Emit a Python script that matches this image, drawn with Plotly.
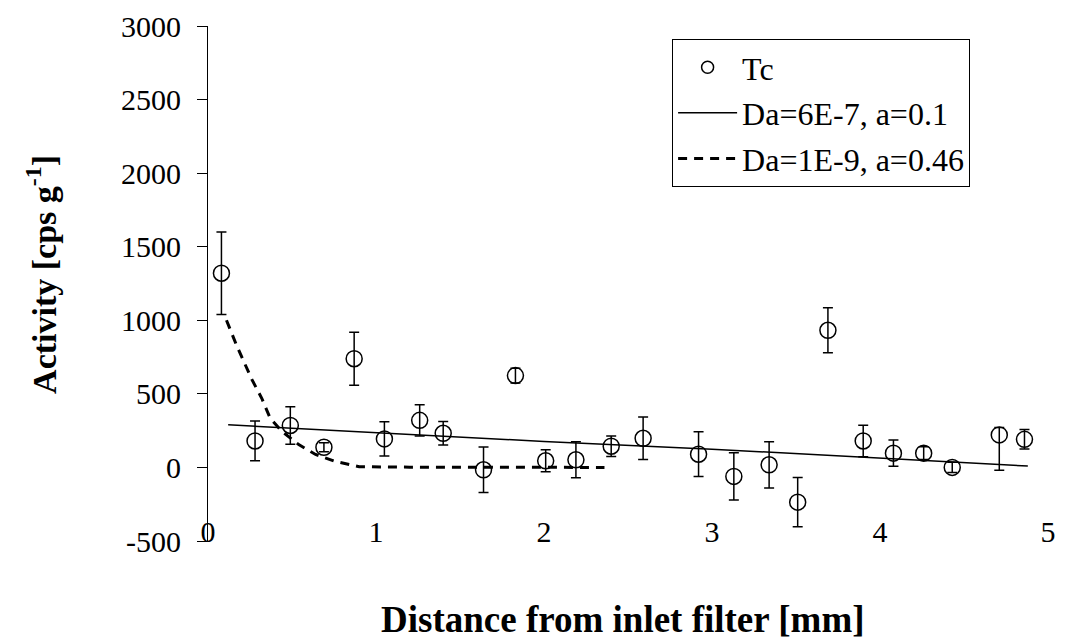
import plotly.graph_objects as go

# Measured data (Tc)
dist = [0.08, 0.28, 0.49, 0.69, 0.87, 1.05, 1.26, 1.40, 1.64, 1.83, 2.01, 2.19, 2.40,
        2.59, 2.92, 3.13, 3.34, 3.51, 3.69, 3.90, 4.08, 4.26, 4.43, 4.71, 4.86]
activity = [1320, 180, 285, 137, 739, 194, 320, 232, -16, 624, 45, 52, 144,
            198, 90, -61, 18, -236, 932, 180, 97, 97, 0, 221, 191]
err_plus = [280, 135, 128, 30, 180, 116, 106, 80, 155, 50, 75, 122, 70,
            144, 152, 160, 157, 167, 153, 107, 89, 43, 35, 50, 66]
err_minus = [280, 135, 128, 30, 180, 116, 106, 80, 155, 50, 75, 122, 70,
             144, 152, 160, 157, 167, 153, 107, 89, 43, 35, 240, 66]

# Model 1: Da=6E-7, a=0.1
m1_x = [0.12, 1.0, 2.0, 3.0, 4.0, 4.88]
m1_y = [290, 239, 176, 124, 63, 9]

# Model 2: Da=1E-9, a=0.46
m2_x = [0.11, 0.17, 0.26, 0.32, 0.37, 0.44, 0.54, 0.64, 0.76, 0.90, 1.2, 1.6, 2.0, 2.36]
m2_y = [1000, 830, 600, 470, 335, 245, 155, 88, 40, 5, 2, 0, 0, 0]

x_ticks = [0, 1, 2, 3, 4, 5]
y_ticks = [-500, 0, 500, 1000, 1500, 2000, 2500, 3000]
y_tick_labels = ["-500", "0", "500", "1000", "1500", "2000", "2500", "3000"]

FONT = "Liberation Serif"
TICK = 30

fig = go.Figure()
fig.add_trace(go.Scatter(
    x=dist, y=activity, mode="markers", name="Tc", showlegend=False,
    marker=dict(symbol="circle-open", size=16, color="black", line=dict(width=1.5, color="black")),
    error_y=dict(type="data", array=err_plus, arrayminus=err_minus, color="black",
                 thickness=1.5, width=5),
))
# legend entry for Tc (smaller symbol, as in the reference legend)
fig.add_trace(go.Scatter(
    x=[None], y=[None], mode="markers", name="Tc", legendgroup="a",
    marker=dict(symbol="circle-open", size=12, color="black", line=dict(width=1.5, color="black")),
))
fig.add_trace(go.Scatter(
    x=m1_x, y=m1_y, mode="lines", name="Da=6E-7, a=0.1", legendgroup="b",
    line=dict(color="black", width=1.5),
))
fig.add_trace(go.Scatter(
    x=m2_x, y=m2_y, mode="lines", name="Da=1E-9, a=0.46", legendgroup="c",
    line=dict(color="black", width=3, dash="9px,7px"),
))

zero_pos = (0 - y_ticks[0]) / (y_ticks[-1] - y_ticks[0])

fig.update_layout(
    width=1065, height=639,
    paper_bgcolor="white", plot_bgcolor="white",
    margin=dict(l=208, r=9, t=22, b=98),
    font=dict(family=FONT, size=TICK, color="black"),
    showlegend=True,
    legend=dict(x=0.5525, y=0.975, xanchor="left", yanchor="top",
                bordercolor="black", borderwidth=1, bgcolor="white",
                font=dict(family=FONT, size=32, color="black"),
                traceorder="grouped", tracegroupgap=1, itemwidth=59),
    xaxis=dict(range=[0, 5], domain=[0, 1], anchor="free", position=0.058,
               showline=False, ticks="", tickvals=x_ticks, showgrid=False, zeroline=False,
               tickfont=dict(family=FONT, size=TICK, color="black")),
    xaxis2=dict(range=[0, 5], overlaying="x", anchor="free", position=zero_pos,
                showline=True, linecolor="black", linewidth=1, ticks="outside", ticklen=10,
                tickcolor="black", tickvals=x_ticks, showticklabels=False,
                showgrid=False, zeroline=False),
    xaxis3=dict(range=[0, 5], overlaying="x", anchor="free", position=zero_pos,
                showline=False, ticks="inside", ticklen=10, tickcolor="black",
                tickvals=x_ticks, showticklabels=False, showgrid=False, zeroline=False),
    yaxis=dict(range=[-500, 3000], domain=[0, 1], anchor="x", showline=True,
               linecolor="black", linewidth=1, ticks="outside", ticklen=10, tickcolor="black",
               tickvals=y_ticks, ticktext=y_tick_labels, showgrid=False, zeroline=False,
               ticklabelstandoff=10,
               tickfont=dict(family=FONT, size=TICK, color="black")),
    yaxis2=dict(range=[-500, 3000], overlaying="y", anchor="x", showline=False,
                ticks="inside", ticklen=10, tickcolor="black", tickvals=y_ticks,
                showticklabels=False, showgrid=False, zeroline=False),
    annotations=[
        dict(text="<b>Distance from inlet filter [mm]</b>", xref="paper", yref="paper",
             x=0.494, y=-0.152, xanchor="center", yanchor="middle", showarrow=False,
             font=dict(family=FONT, size=37, color="black")),
        dict(text="<b>Activity [cps g<sup>-1</sup>]</b>", xref="paper", yref="paper",
             x=-0.198, y=0.518, xanchor="center", yanchor="middle", showarrow=False,
             textangle=-90, font=dict(family=FONT, size=34, color="black")),
    ],
)

fig.write_html("out.html", config={"displayModeBar": False},
               post_script="document.body.style.margin='0px';")
